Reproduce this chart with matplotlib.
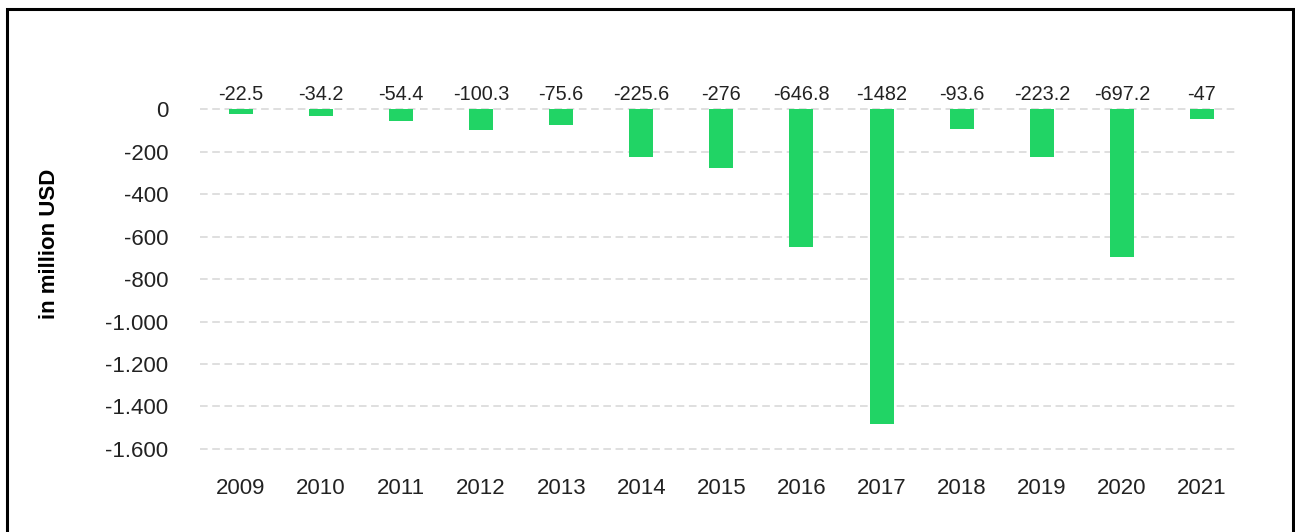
import matplotlib.pyplot as plt
from matplotlib.patches import Rectangle
from matplotlib.ticker import FuncFormatter

# Data
years = ['2009', '2010', '2011', '2012', '2013', '2014', '2015',
         '2016', '2017', '2018', '2019', '2020', '2021']
net_income = [-22.5, -34.2, -54.4, -100.3, -75.6, -225.6, -276,
              -646.8, -1482, -93.6, -223.2, -697.2, -47]
yticks = [0, -200, -400, -600, -800, -1000, -1200, -1400, -1600]

plt.rcParams['font.family'] = ['Liberation Sans', 'DejaVu Sans']

fig = plt.figure(figsize=(12.95, 5.32), dpi=100)
ax = fig.add_axes([0.1544, 0.1353, 0.8016, 0.733])

x = range(len(years))
ax.bar(x, net_income, width=0.3, color='#21d465', zorder=3)

for i, v in zip(x, net_income):
    ax.annotate(f"{v:g}", (i, 0), xytext=(0, 4), textcoords='offset points',
                ha='center', va='bottom', fontsize=14.3, color='#222222')

ax.set_xlim(-0.51, 12.45)
ax.set_ylim(-1652, 184)
ax.set_xticks(list(x))
ax.set_xticklabels(years)
ax.set_yticks(yticks)
ax.yaxis.set_major_formatter(FuncFormatter(lambda v, p: f"{v:,.0f}".replace(',', '.')))

ax.grid(axis='y', color='#d6d6d6', linestyle=(0, (5, 3)), linewidth=1.1, zorder=0)
ax.tick_params(axis='both', length=0, labelsize=16, colors='#222222')
ax.tick_params(axis='y', pad=23)
ax.tick_params(axis='x', pad=13)
for s in ax.spines.values():
    s.set_visible(False)

ax.set_ylabel('in million USD', fontsize=16, fontweight='bold')
ax.yaxis.set_label_coords(-0.135, 0.554)

# frame around the whole picture
fig.patches.append(Rectangle((7 / 1295, -0.05), 1286 / 1295, 1.05 - 9 / 532,
                             transform=fig.transFigure, fill=False,
                             edgecolor='black', linewidth=2.2))

fig.savefig('out.png', dpi=100)
